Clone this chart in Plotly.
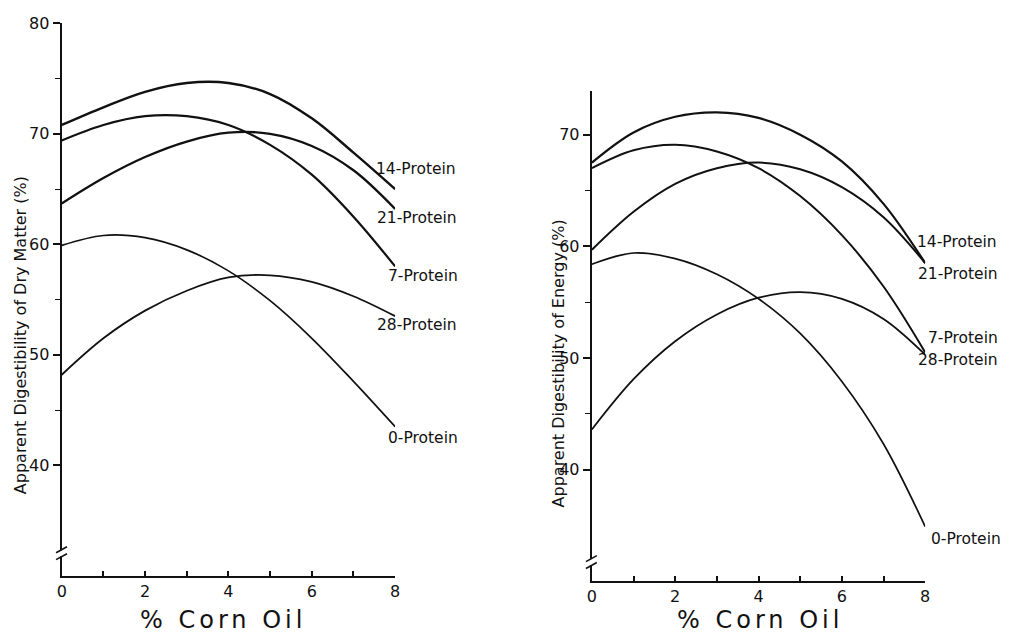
import plotly.graph_objects as go

# % corn oil in the diet
corn_oil = [0, 1, 2, 3, 4, 5, 6, 7, 8]

# Apparent digestibility of dry matter (%), by dietary protein level
dm_14 = [70.8, 72.4, 73.8, 74.6, 74.6, 73.6, 71.4, 68.3, 65.0]
dm_21 = [63.7, 66.0, 67.9, 69.3, 70.1, 70.0, 68.9, 66.7, 63.2]
dm_7 = [69.4, 70.8, 71.6, 71.6, 70.8, 69.0, 66.3, 62.5, 58.0]
dm_28 = [48.2, 51.5, 54.0, 55.8, 57.0, 57.2, 56.6, 55.3, 53.5]
dm_0 = [59.9, 60.8, 60.6, 59.5, 57.6, 54.9, 51.5, 47.6, 43.5]

# Apparent digestibility of energy (%), by dietary protein level
en_14 = [67.5, 70.2, 71.6, 72.0, 71.5, 70.0, 67.6, 63.8, 58.5]
en_21 = [59.7, 63.1, 65.6, 67.0, 67.5, 66.9, 65.3, 62.6, 58.5]
en_7 = [67.0, 68.6, 69.1, 68.5, 67.0, 64.5, 61.0, 56.4, 50.5]
en_28 = [43.6, 48.1, 51.5, 53.9, 55.4, 55.9, 55.3, 53.5, 50.3]
en_0 = [58.4, 59.4, 58.9, 57.5, 55.3, 52.2, 47.9, 42.3, 34.9]

series_names = ["14-Protein", "21-Protein", "7-Protein", "28-Protein", "0-Protein"]
dm_series = [dm_14, dm_21, dm_7, dm_28, dm_0]
en_series = [en_14, en_21, en_7, en_28, en_0]

dm_ticks = [40, 50, 60, 70, 80]
dm_minor = [45, 55, 65, 75]
en_ticks = [40, 50, 60, 70]
en_minor = [45, 55, 65]
x_ticks = [0, 2, 4, 6, 8]
x_minor = [1, 3, 5, 7]

W, H = 1020, 637
FONT = "DejaVu Sans"
INK = "#111111"


def px(x):
    return x / W


def py(y):
    return 1 - y / H


fig = go.Figure()

dm_widths = [2.4, 2.3, 2.2, 1.8, 1.7]
en_widths = [2.2, 2.0, 2.0, 1.8, 1.7]

for name, ys, w in zip(series_names, dm_series, dm_widths):
    fig.add_trace(go.Scatter(
        x=corn_oil, y=ys, mode="lines", name=name,
        line=dict(color=INK, width=w, shape="spline", smoothing=1.0),
        xaxis="x", yaxis="y", showlegend=False, cliponaxis=False,
    ))

for name, ys, w in zip(series_names, en_series, en_widths):
    fig.add_trace(go.Scatter(
        x=corn_oil, y=ys, mode="lines", name=name,
        line=dict(color=INK, width=w, shape="spline", smoothing=1.0),
        xaxis="x2", yaxis="y2", showlegend=False, cliponaxis=False,
    ))

tick_font = dict(family=FONT, size=16, color=INK)


def x_axis(domain, anchor):
    return dict(
        domain=domain, anchor=anchor, range=[0, 8],
        showgrid=False, zeroline=False,
        showline=True, linecolor=INK, linewidth=2,
        tickmode="array", tickvals=x_ticks, ticktext=[str(v) for v in x_ticks],
        ticks="inside", ticklen=5, tickwidth=1.5, tickcolor=INK,
        minor=dict(tickvals=x_minor, ticks="inside", ticklen=5,
                   tickwidth=1.5, tickcolor=INK),
        tickfont=tick_font, fixedrange=True,
    )


def y_axis(domain, anchor, rng, ticks, minor):
    return dict(
        domain=domain, anchor=anchor, range=rng,
        showgrid=False, zeroline=False,
        showline=True, linecolor=INK, linewidth=2.3,
        tickmode="array", tickvals=ticks, ticktext=[str(v) for v in ticks],
        ticks="outside", ticklen=7, tickwidth=1.5, tickcolor=INK,
        minor=dict(tickvals=minor, ticks="outside", ticklen=5,
                   tickwidth=1.3, tickcolor=INK),
        tickfont=tick_font, fixedrange=True,
    )


left_x = [px(57.3), px(394.0)]
left_y = [py(575.0), py(14.5)]
right_x = [px(592.7), px(929.3)]
right_y = [py(580.5), py(83.3)]

fig.update_layout(
    width=W, height=H,
    margin=dict(l=0, r=0, t=0, b=0),
    paper_bgcolor="white", plot_bgcolor="rgba(0,0,0,0)",
    xaxis=x_axis(left_x, "y"),
    yaxis=y_axis(left_y, "x", [30, 80], dm_ticks, dm_minor),
    xaxis2=x_axis(right_x, "y2"),
    yaxis2=y_axis(right_y, "x2", [30, 73.9], en_ticks, en_minor),
)

# Curve labels at the right-hand ends
label_font = dict(family=FONT, size=15.5, color=INK)
left_labels = [(374, 162), (375, 212.5), (386, 271), (375, 321), (386, 435)]
right_labels = [(920.5, 236.5), (921.5, 269), (931.5, 333.5), (921.5, 356.5), (934.5, 538)]
for name, (lx, ly) in zip(series_names, left_labels):
    fig.add_annotation(text=name, x=px(lx), y=py(ly), xref="paper", yref="paper",
                       xanchor="left", yanchor="middle", showarrow=False,
                       font=label_font, borderpad=0)
for name, (lx, ly) in zip(series_names, right_labels):
    fig.add_annotation(text=name, x=px(lx), y=py(ly), xref="paper", yref="paper",
                       xanchor="left", yanchor="middle", showarrow=False,
                       font=label_font, borderpad=0)

# Axis titles
ytitle_font = dict(family=FONT, size=16, color=INK)
fig.add_annotation(text="Apparent Digestibility of Dry Matter (%)",
                   x=px(15), y=py(331), xref="paper", yref="paper",
                   textangle=-90, showarrow=False, font=ytitle_font,
                   xanchor="center", yanchor="middle")
fig.add_annotation(text="Apparent Digestibility of Energy (%)",
                   x=px(559), y=py(360), xref="paper", yref="paper",
                   textangle=-90, showarrow=False, font=ytitle_font,
                   xanchor="center", yanchor="middle")

xtitle_font = dict(family=FONT, size=24, color=INK)
for cx in (220, 762):
    fig.add_annotation(text='<span style="letter-spacing:4px">% Corn Oil</span>',
                       x=px(cx), y=py(620), xref="paper", yref="paper",
                       showarrow=False, font=xtitle_font,
                       xanchor="center", yanchor="middle")


# Axis break marks on each y axis
def axis_break(x_axis_px, y_center_px):
    shapes = [dict(type="rect", xref="paper", yref="paper",
                   x0=px(x_axis_px - 3), x1=px(x_axis_px + 3),
                   y0=py(y_center_px + 3), y1=py(y_center_px - 3),
                   fillcolor="white", line=dict(width=0), layer="above")]
    for dy in (-3.5, 3.5):
        shapes.append(dict(type="line", xref="paper", yref="paper",
                           x0=px(x_axis_px - 6), y0=py(y_center_px + dy + 3),
                           x1=px(x_axis_px + 5), y1=py(y_center_px + dy - 3),
                           line=dict(color=INK, width=1.6), layer="above"))
    return shapes


fig.update_layout(shapes=axis_break(57.6, 552) + axis_break(592.7, 561))

fig.write_html("out.html")
